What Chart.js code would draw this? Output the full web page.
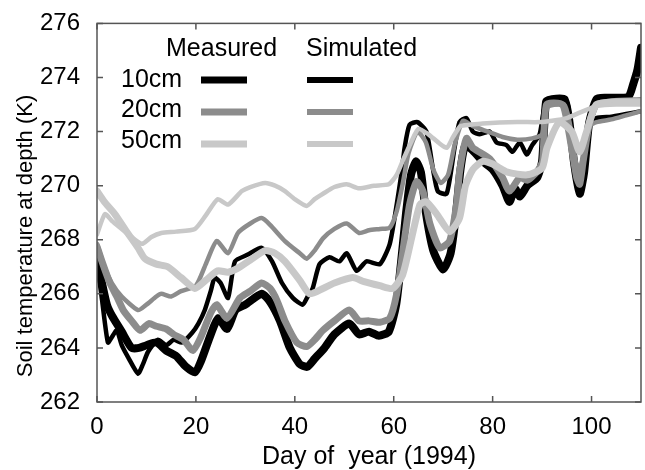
<!DOCTYPE html>
<html>
<head>
<meta charset="utf-8">
<script src="https://cdn.jsdelivr.net/npm/chart.js@4.4.0/dist/chart.umd.min.js"></script>
<style>
  html, body { margin: 0; padding: 0; background: #fff; }
  #wrap { width: 645px; height: 470px; }
</style>
</head>
<body>
<div id="wrap"><canvas id="soil" width="645" height="470"></canvas></div>
<script>
// ---------- Data ----------
const depthLabels = ["10cm", "20cm", "50cm"];
const xTicks = [0, 20, 40, 60, 80, 100];
const yTicks = [262, 264, 266, 268, 270, 272, 274, 276];

// measured 10cm
const measDays10 = [0, 1, 2, 3, 5, 7, 8.5, 10, 12, 14, 16, 18, 19.8, 21, 23, 24.5, 26.3, 28, 30, 33.3, 35, 37, 39, 41, 42.5, 44, 46, 48, 51, 53, 55, 57, 59, 60.5, 61.5, 62.5, 63.5, 64.5, 65.5, 66.5, 68, 70, 71.5, 72.5, 73.5, 74.5, 76, 78, 80, 82, 83.4, 84.5, 85.5, 87, 89, 90, 90.8, 92, 94.5, 95.5, 96.5, 97.6, 98.5, 99.5, 101, 103, 105, 107.5, 108.5, 109.3, 110];
const meas10 = [267.2, 266.4, 265.6, 265.2, 264.6, 264.0, 264.0, 264.1, 264.2, 263.9, 263.7, 263.3, 263.1, 263.5, 264.5, 265.1, 264.7, 265.4, 265.6, 266.0, 265.7, 265.0, 264.0, 263.4, 263.3, 263.6, 264.0, 264.5, 264.9, 264.5, 264.6, 264.45, 264.6, 265.6, 267.2, 269.0, 270.4, 270.9, 270.5, 269.0, 267.6, 266.9, 267.5, 268.8, 270.6, 271.5, 271.3, 270.9, 270.6, 270.0, 269.4, 269.9, 269.6, 270.0, 270.3, 270.9, 273.1, 273.2, 273.2, 272.4, 270.8, 269.7, 270.5, 272.3, 273.2, 273.25, 273.25, 273.3, 273.8, 274.3, 275.1];

// measured 20cm
const measDays20 = [0, 1, 2.6, 4, 5.3, 7, 8.7, 10.5, 12, 14, 15.5, 17.5, 19.4, 21, 23, 24.2, 26.3, 28.9, 31, 33.3, 35, 36.4, 38, 40.4, 42.4, 44, 45.7, 48, 51, 53, 55, 57.2, 59.2, 60.6, 61.8, 63.2, 64.6, 65.9, 67.3, 69.3, 71.3, 72.7, 73.3, 74.7, 76, 79.4, 82, 83.4, 85.5, 87, 88.9, 90.1, 90.9, 94.1, 95.3, 97, 97.6, 98.3, 99.6, 101, 104, 110];
const meas20 = [267.75, 267.2, 266.4, 265.9, 265.4, 265.0, 264.65, 264.9, 264.8, 264.7, 264.5, 264.3, 263.9, 264.4, 265.3, 265.6, 265.1, 265.85, 266.1, 266.4, 266.2, 265.75, 265.0, 264.2, 264.05, 264.3, 264.65, 265.0, 265.4, 265.0, 265.0, 264.95, 265.1, 266.0, 267.5, 269.3, 270.15, 269.8, 268.6, 267.7, 267.95, 269.3, 270.5, 271.75, 271.4, 271.0, 270.3, 269.8, 270.3, 270.2, 270.5, 270.9, 273.0, 273.0, 272.1, 270.3, 270.05, 270.9, 272.35, 273.0, 273.1, 273.15];

// measured 50cm
const measDays50 = [0, 1.5, 3.6, 6, 8.3, 9.7, 12, 14.3, 17, 19.8, 22, 24.4, 26.5, 28.5, 31, 34, 36, 38, 41, 43, 45.7, 48, 51.7, 54, 57.2, 59.8, 61.8, 63.6, 65.3, 66.6, 68.7, 71.3, 73.3, 74.5, 76, 78, 80, 83, 87, 90, 91, 93.5, 96, 97.6, 99, 101, 105, 110];
const meas50 = [269.8, 269.4, 268.95, 268.3, 267.7, 267.3, 267.1, 267.0, 266.6, 266.2, 266.5, 266.85, 266.8, 266.95, 267.25, 267.6, 267.5, 267.2, 266.5, 266.0, 266.2, 266.4, 266.6, 266.45, 266.3, 266.2, 266.7, 268.05, 269.3, 269.4, 268.95, 268.3, 268.8, 270.0, 270.6, 270.9, 270.8, 270.5, 270.4, 270.65, 271.4, 272.35, 272.0, 271.25, 272.0, 273.0, 273.1, 273.1];

// simulated 10cm
const simDays10 = [0, 1, 2.2, 3, 4, 5, 6.3, 8.3, 9.3, 10.3, 12.3, 14, 15.5, 17.2, 19.2, 20.5, 21.8, 23, 23.8, 25, 26.5, 27.9, 30.5, 33.3, 35.4, 37.4, 39.6, 41.6, 42.6, 43.6, 45, 47, 49, 50.5, 52.5, 54.5, 57.2, 59.2, 60.6, 61.6, 62.2, 63.2, 64.8, 66.6, 67.9, 68.9, 70.7, 72.3, 73.3, 74.7, 76, 77.4, 79.4, 80.8, 82.8, 84, 85.5, 86.9, 88, 89.5, 90.9, 95, 95.6, 96.5, 97.6, 98.5, 99.6, 101, 104, 107, 110];
const sim10 = [267.15, 265.8, 264.2, 264.4, 264.65, 264.1, 263.65, 263.05, 263.4, 263.85, 264.3, 264.1, 264.3, 264.2, 264.55, 264.9, 265.4, 266.1, 266.6, 266.4, 265.85, 267.2, 267.45, 267.7, 267.2, 266.4, 265.85, 265.6, 265.9, 266.2, 267.1, 267.35, 267.2, 267.5, 266.85, 267.2, 267.1, 267.85, 269.3, 270.5, 271.4, 272.25, 272.35, 272.0, 270.65, 269.8, 269.7, 271.4, 272.35, 272.5, 272.0, 271.9, 272.0, 271.6, 271.5, 271.25, 271.6, 271.15, 271.5, 271.9, 273.1, 273.1, 272.3, 270.8, 270.0, 270.8, 272.2, 272.5, 272.55, 272.65, 272.75];

// simulated 20cm
const simDays20 = [0, 1.5, 3, 5, 8.3, 10, 12, 13, 15, 17, 20, 22, 24.2, 26.5, 28.5, 31, 33.3, 35, 38, 41, 42.4, 44, 45.7, 48, 50.5, 53, 55, 57.2, 59.2, 60.6, 61.8, 63, 64.8, 66.5, 68, 69.5, 71, 72.3, 74, 76, 79, 82, 85, 88, 90, 91, 94.5, 95.6, 96.8, 97.6, 98.6, 99.6, 101, 104, 107, 110];
const sim20 = [267.85, 267.0, 266.4, 265.9, 265.4, 265.6, 265.9, 266.0, 265.9, 266.1, 266.3, 267.1, 267.95, 267.5, 268.25, 268.6, 268.8, 268.55, 267.95, 267.5, 267.3, 267.6, 268.05, 268.4, 268.6, 268.25, 268.35, 268.4, 268.45, 269.05, 270.05, 271.2, 272.0, 271.6, 270.6, 270.1, 270.4, 271.5, 272.4, 272.2, 272.0, 271.8, 271.7, 271.75, 271.9, 272.9, 273.0, 272.3, 270.9, 270.6, 271.3, 272.2, 272.35, 272.45, 272.6, 272.75];

// simulated 50cm
const simDays50 = [0, 1.6, 3, 5, 7, 9.1, 11, 13, 16, 19.8, 22, 24.4, 26.5, 29.3, 31, 34, 36, 38, 40, 42.4, 44, 45.7, 48, 50.5, 53, 56, 59, 60.6, 62, 63.5, 65, 67, 69, 70.7, 72, 73.5, 75.4, 78, 85, 89.5, 92, 95, 97.6, 99.6, 101, 105, 110];
const sim50 = [268.2, 268.95, 268.7, 268.4, 268.1, 267.85, 268.1, 268.25, 268.3, 268.4, 268.9, 269.5, 269.3, 269.8, 269.95, 270.1, 270.0, 269.8, 269.5, 269.25, 269.5, 269.7, 269.95, 270.05, 269.9, 270.0, 270.05, 270.4, 271.0, 271.6, 272.1, 271.9, 271.6, 271.4, 271.8, 272.2, 272.25, 272.3, 272.35, 272.35, 272.4, 272.5, 272.7, 272.85, 272.95, 273.0, 273.0];

// ---------- Helpers ----------
const FONT = "'Liberation Sans', Arial, Helvetica, sans-serif";
const BLACK = "#000000", GRAY = "#8c8c8c", LIGHT = "#c8c8c8";
const MEAS_W = 7, SIM_W = 4.5;

function pts(days, vals) {
  return days.map((d, i) => ({ x: d, y: vals[i] }));
}

function series(label, days, vals, color, width, order) {
  return {
    label,
    data: pts(days, vals),
    borderColor: color,
    backgroundColor: color,
    borderWidth: width,
    pointRadius: 0,
    tension: 0.2,
    borderJoinStyle: "round",
    borderCapStyle: "round",
    fill: false,
    order,
  };
}

// measured / simulated pairs per depth, same order as depthLabels
const measured = [
  series("Measured 10cm", measDays10, meas10, BLACK, MEAS_W + 1, 6),
  series("Measured 20cm", measDays20, meas20, GRAY, MEAS_W, 4),
  series("Measured 50cm", measDays50, meas50, LIGHT, MEAS_W, 2),
];
const simulated = [
  series("Simulated 10cm", simDays10, sim10, BLACK, SIM_W, 5),
  series("Simulated 20cm", simDays20, sim20, GRAY, SIM_W, 3),
  series("Simulated 50cm", simDays50, sim50, LIGHT, SIM_W, 1),
];

// ---------- Frame, inward ticks, y title, legend ----------
const framePlugin = {
  id: "frame",
  afterDraw(chart) {
    const { ctx, chartArea: a, scales: { x, y } } = chart;
    ctx.save();
    ctx.strokeStyle = "#555";
    ctx.lineWidth = 1.5;
    ctx.strokeRect(a.left, a.top, a.right - a.left, a.bottom - a.top);
    ctx.beginPath();
    xTicks.forEach((v) => {
      const px = x.getPixelForValue(v);
      ctx.moveTo(px, a.bottom); ctx.lineTo(px, a.bottom - 6);
      ctx.moveTo(px, a.top); ctx.lineTo(px, a.top + 6);
    });
    yTicks.forEach((v) => {
      const py = y.getPixelForValue(v);
      ctx.moveTo(a.left, py); ctx.lineTo(a.left + 6, py);
      ctx.moveTo(a.right, py); ctx.lineTo(a.right - 6, py);
    });
    ctx.stroke();

    // y axis title
    ctx.fillStyle = "#000";
    ctx.font = "22px " + FONT;
    ctx.textAlign = "center";
    ctx.textBaseline = "middle";
    ctx.save();
    ctx.translate(26, 236);
    ctx.rotate(-Math.PI / 2);
    ctx.fillText("Soil temperature at depth (K)", 0, 0);
    ctx.restore();

    // legend
    ctx.font = "25px " + FONT;
    ctx.textAlign = "left";
    ctx.fillText("Measured", 166, 49);
    ctx.fillText("Simulated", 306, 49);
    const textY = [80, 110.5, 141];
    const lineY = [80, 112, 144];
    depthLabels.forEach((lab, i) => {
      ctx.fillStyle = "#000";
      ctx.fillText(lab, 121, textY[i]);
      ctx.lineCap = "butt";
      ctx.strokeStyle = measured[i].borderColor;
      ctx.lineWidth = 7;
      ctx.beginPath(); ctx.moveTo(201, lineY[i]); ctx.lineTo(247, lineY[i]); ctx.stroke();
      ctx.strokeStyle = simulated[i].borderColor;
      ctx.lineWidth = 6;
      ctx.beginPath(); ctx.moveTo(307, lineY[i]); ctx.lineTo(353, lineY[i]); ctx.stroke();
    });
    ctx.restore();
  },
};

// ---------- Chart ----------
new Chart(document.getElementById("soil"), {
  type: "line",
  data: { datasets: [...measured, ...simulated] },
  options: {
    responsive: false,
    animation: false,
    layout: { padding: { top: 21, right: 4, left: 0, bottom: 0 } },
    plugins: { legend: { display: false }, tooltip: { enabled: false } },
    scales: {
      x: {
        type: "linear",
        min: 0,
        max: 110,
        afterFit: (s) => { s.height = 68; },
        afterBuildTicks: (s) => { s.ticks = xTicks.map((v) => ({ value: v })); },
        ticks: { color: "#000", font: { family: FONT, size: 24 }, padding: 3, maxRotation: 0 },
        grid: { display: false },
        border: { display: false },
        title: {
          display: true,
          text: "Day of  year (1994)",
          color: "#000",
          font: { family: FONT, size: 25 },
          padding: { top: 0, bottom: -2 },
        },
      },
      y: {
        min: 262,
        max: 276,
        afterFit: (s) => { s.width = 97; },
        afterBuildTicks: (s) => { s.ticks = yTicks.map((v) => ({ value: v })); },
        ticks: { color: "#000", font: { family: FONT, size: 24 }, padding: 9 },
        grid: { display: false },
        border: { display: false },
      },
    },
  },
  plugins: [framePlugin],
});
</script>
</body>
</html>
